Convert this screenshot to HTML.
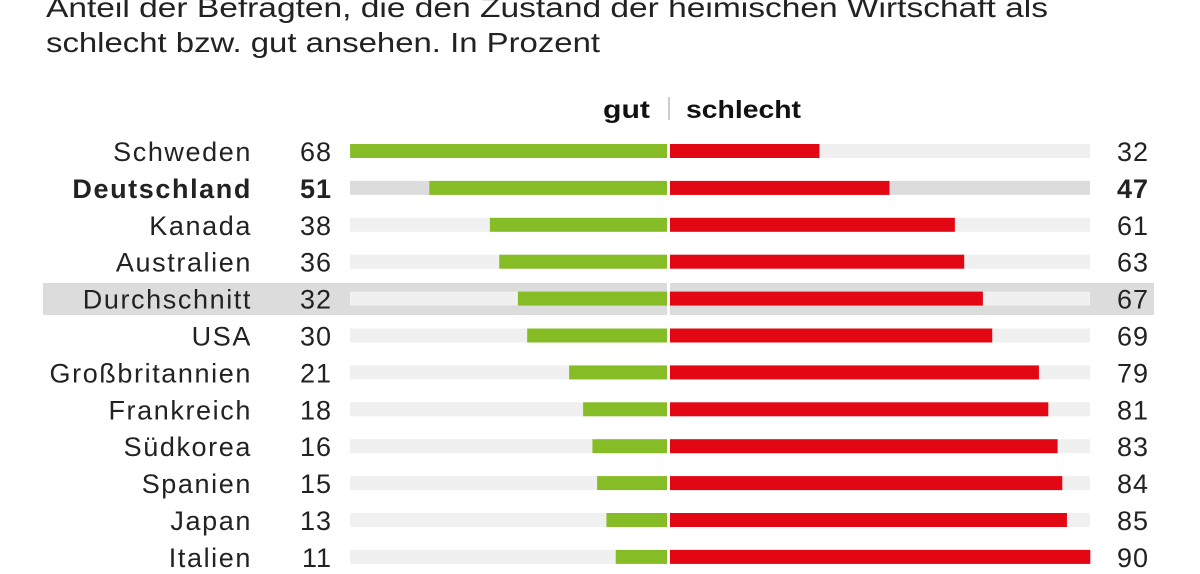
<!DOCTYPE html>
<html><head><meta charset="utf-8"><style>
html,body{margin:0;padding:0;background:#fff;}
svg{display:block;font-family:"Liberation Sans",sans-serif;}
</style></head><body>
<svg width="1200" height="574" viewBox="0 0 1200 574" xmlns="http://www.w3.org/2000/svg">
<g fill="#222" font-size="28">
<text x="46" y="17" textLength="1002" lengthAdjust="spacingAndGlyphs">Anteil der Befragten, die den Zustand der heimischen Wirtschaft als</text>
<text x="46" y="52" textLength="554" lengthAdjust="spacingAndGlyphs">schlecht bzw. gut ansehen. In Prozent</text>
</g>
<g fill="#111" font-size="25" font-weight="bold">
<text x="603" y="118" textLength="47" lengthAdjust="spacingAndGlyphs">gut</text>
<text x="686" y="118" textLength="115" lengthAdjust="spacingAndGlyphs">schlecht</text>
</g>
<line x1="669" y1="97" x2="669" y2="120" stroke="#bbb" stroke-width="1.5"/>
<rect x="43" y="283" width="1111" height="32" fill="#dcdcdc"/>
<rect x="667" y="283" width="3" height="32" fill="#fff"/>
<g id="rows" font-size="27" fill="#222"></g>
</svg>
<script>
var d=[["Schweden",68,32],["Deutschland",51,47],["Kanada",38,61],["Australien",36,63],["Durchschnitt",32,67],["USA",30,69],["Großbritannien",21,79],["Frankreich",18,81],["Südkorea",16,83],["Spanien",15,84],["Japan",13,85],["Italien",11,90]];
var g=document.getElementById("rows"),h="";
d.forEach(function(r,i){
 var c=151+i*36.9,t=c-7,b=i==1,tr=b?"#dcdcdc":"#f0f0f0",fw=b?' font-weight="bold"':'';
 h+='<rect x="350" y="'+t+'" width="317" height="14" fill="'+tr+'"/>';
 h+='<rect x="670" y="'+t+'" width="420" height="14" fill="'+tr+'"/>';
 var gw=r[1]*4.66;h+='<rect x="'+(667-gw)+'" y="'+t+'" width="'+gw+'" height="14" fill="#86bc25"/>';
 h+='<rect x="670" y="'+t+'" width="'+(r[2]*4.67)+'" height="14" fill="#e30613"/>';
 var y=c+10;
 h+='<text x="252" y="'+y+'" text-anchor="end" letter-spacing="1.6"'+fw+'>'+r[0]+'</text>';
 h+='<text x="332" y="'+y+'" text-anchor="end" letter-spacing="1"'+fw+'>'+r[1]+'</text>';
 h+='<text x="1149" y="'+y+'" text-anchor="end" letter-spacing="1"'+fw+'>'+r[2]+'</text>';
});
g.innerHTML=h;
</script>
</body></html>
